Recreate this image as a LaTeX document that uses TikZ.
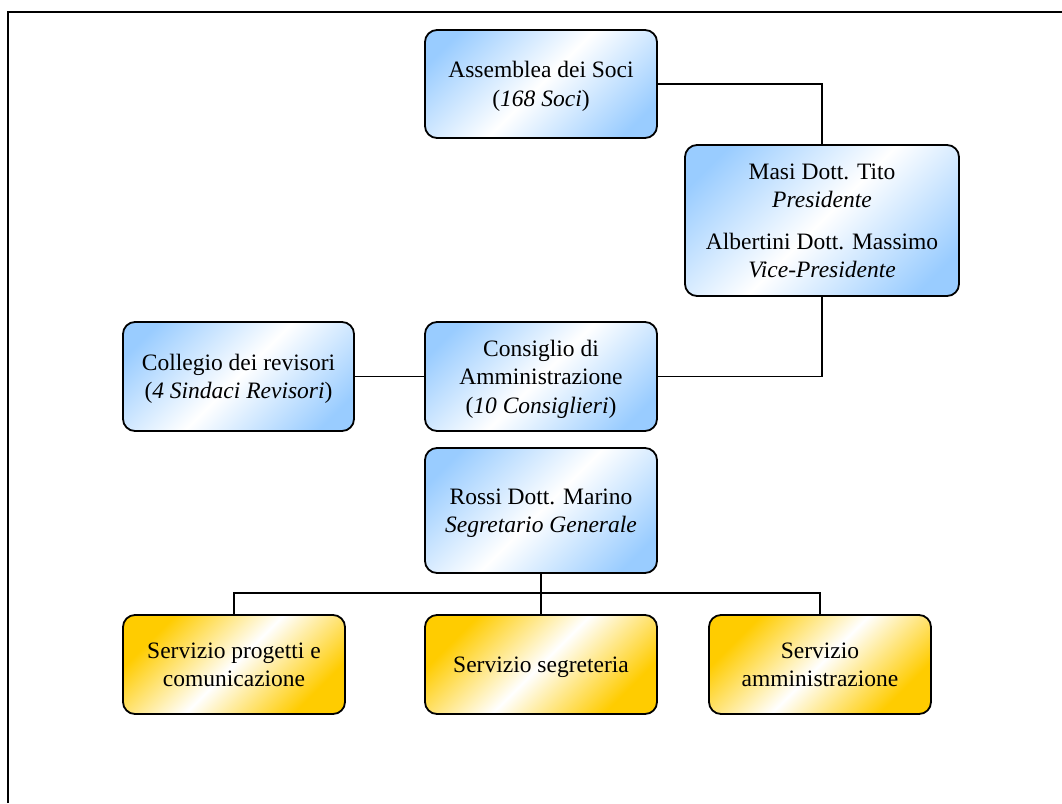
\documentclass[tikz,border=0pt]{standalone}
\usepackage{fontspec}
\setmainfont{Liberation Serif}
\definecolor{myblue}{RGB}{153,204,255}
\definecolor{mygold}{RGB}{255,204,0}
\pgfdeclarehorizontalshading{bluediag}{100bp}{color(0bp)=(myblue); color(22bp)=(myblue); color(50bp)=(white); color(78bp)=(myblue); color(100bp)=(myblue)}
\pgfdeclarehorizontalshading{golddiag}{100bp}{color(0bp)=(mygold); color(26bp)=(mygold); color(50bp)=(white); color(74bp)=(mygold); color(100bp)=(mygold)}
\tikzset{
  box/.style={draw=black, line width=1.8pt, rounded corners=12pt, align=center,
    font=\fontsize{23.5}{28.5}\selectfont, inner sep=2pt, text depth=0pt},
  bluebox/.style={box, shading=bluediag, shading angle=-45},
  goldbox/.style={box, shading=golddiag, shading angle=-45},
  conn/.style={draw=black, line width=1.3pt},
}
\begin{document}
\begin{tikzpicture}[x=1pt,y=-1pt]
\useasboundingbox (0,0) rectangle (1062,803);
\draw[line width=1.6pt] (8,803) -- (8,12) -- (1062,12);

\node[bluebox, minimum width=232pt, minimum height=108pt] (ass) at (541,84)
  {Assemblea dei Soci\\(\textit{168 Soci})};
\node[bluebox, minimum width=274pt, minimum height=151pt] (masi) at (822,220.5)
  {Masi Dott. Tito\\\textit{Presidente}\\[13pt]Albertini Dott. Massimo\\\textit{Vice-Presidente}};
\node[bluebox, minimum width=231pt, minimum height=109pt] (coll) at (238.5,376.5)
  {Collegio dei revisori\\(\textit{4 Sindaci Revisori})};
\node[bluebox, minimum width=232pt, minimum height=109pt] (cons) at (541,376.5)
  {Consiglio di\\Amministrazione\\(\textit{10 Consiglieri})};
\node[bluebox, minimum width=232pt, minimum height=125pt] (rossi) at (541,510.5)
  {Rossi Dott. Marino\\\textit{Segretario Generale}};
\node[goldbox, minimum width=222pt, minimum height=99pt] (sp) at (234,664.5)
  {Servizio progetti e\\comunicazione};
\node[goldbox, minimum width=232pt, minimum height=99pt] (ss) at (541,664.5)
  {Servizio segreteria};
\node[goldbox, minimum width=222pt, minimum height=99pt] (sa) at (820,664.5)
  {Servizio\\amministrazione};

\draw[conn] (ass.east) -| (masi.north);
\draw[conn] (masi.south) |- (cons.east);
\draw[conn] (coll.east) -- (cons.west);
\draw[conn] (rossi.south) -- (ss.north);
\draw[conn] (sp.north) -- ++(0,-21) -| (sa.north);
\end{tikzpicture}
\end{document}
